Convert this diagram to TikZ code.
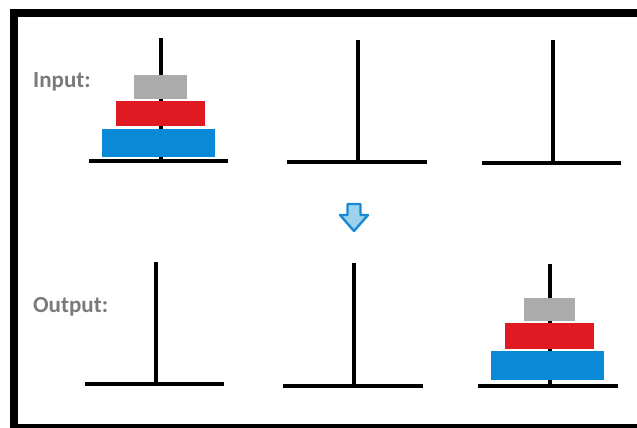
\documentclass[tikz,border=0pt]{standalone}
\usepackage{fontspec}
\setmainfont{Carlito}
\definecolor{diskgray}{HTML}{ABABAB}
\definecolor{diskred}{HTML}{DF1A22}
\definecolor{diskblue}{HTML}{0A8AD6}
\definecolor{arrowfill}{HTML}{9CD2EC}
\definecolor{arrowline}{HTML}{1A88D2}
\definecolor{labelgray}{HTML}{7A7A7A}
\begin{document}
\begin{tikzpicture}[x=1pt,y=-1pt,
  pole/.style={line width=3.6pt},
  basebar/.style={line width=4.6pt},
  disk/.style={draw=none,inner sep=0pt},
  lbl/.style={font=\bfseries\fontsize{23}{26}\selectfont,text=labelgray,inner sep=0pt},
  framebar/.style={fill=black,draw=none}]
\useasboundingbox (0,0) rectangle (637,428);
\fill[white] (0,0) rectangle (637,428);
% frame
\fill[framebar] (10,9) rectangle (637,17);
\fill[framebar] (10,9) rectangle (18,428);
\fill[framebar] (10,424) rectangle (637,428);
% labels
\node[lbl,anchor=west] (inlbl) at (33,82) {Input:};
\node[lbl,anchor=west] (outlbl) at (33,307) {Output:};
% input pegs
\coordinate (p1t) at (161,38); \coordinate (p1b) at (161,161);
\coordinate (b1l) at (89,161); \coordinate (b1r) at (228,161);
\coordinate (p2t) at (358,40); \coordinate (p2b) at (358,162);
\coordinate (b2l) at (287,162); \coordinate (b2r) at (427,162);
\coordinate (p3t) at (553,40); \coordinate (p3b) at (553,163);
\coordinate (b3l) at (482,163); \coordinate (b3r) at (621,163);
\draw[pole] (p1t) -- (p1b); \draw[basebar] (b1l) -- (b1r);
\draw[pole] (p2t) -- (p2b); \draw[basebar] (b2l) -- (b2r);
\draw[pole] (p3t) -- (p3b); \draw[basebar] (b3l) -- (b3r);
\fill[diskgray] (134,75) rectangle (187,99);
\fill[diskred] (116,101) rectangle (205,126);
\fill[diskblue] (102,129) rectangle (215,157);
\draw[line width=3pt] (161,99) -- (161,101);
\draw[line width=3pt] (161,126) -- (161,129);
% arrow
\draw[arrowline,fill=arrowfill,line width=2.4pt,line join=round]
  (347.5,204) -- (360.5,204) -- (360.5,215) -- (368,215) -- (354,231)
  -- (340,215) -- (347.5,215) -- cycle;
% output pegs
\coordinate (p4t) at (156,262); \coordinate (p4b) at (156,384);
\coordinate (b4l) at (85,384); \coordinate (b4r) at (224,384);
\coordinate (p5t) at (354,263); \coordinate (p5b) at (354,386);
\coordinate (b5l) at (283,386); \coordinate (b5r) at (423,386);
\coordinate (p6t) at (550,264); \coordinate (p6b) at (550,386);
\coordinate (b6l) at (478,386); \coordinate (b6r) at (618,386);
\draw[pole] (p4t) -- (p4b); \draw[basebar] (b4l) -- (b4r);
\draw[pole] (p5t) -- (p5b); \draw[basebar] (b5l) -- (b5r);
\draw[pole] (p6t) -- (p6b); \draw[basebar] (b6l) -- (b6r);
\fill[diskgray] (524,298) rectangle (575,321);
\fill[diskred] (505,323) rectangle (594,349);
\fill[diskblue] (491,351) rectangle (604,380);
\draw[line width=3pt] (550,321) -- (550,323);
\draw[line width=3pt] (550,349) -- (550,351);
\end{tikzpicture}
\end{document}
